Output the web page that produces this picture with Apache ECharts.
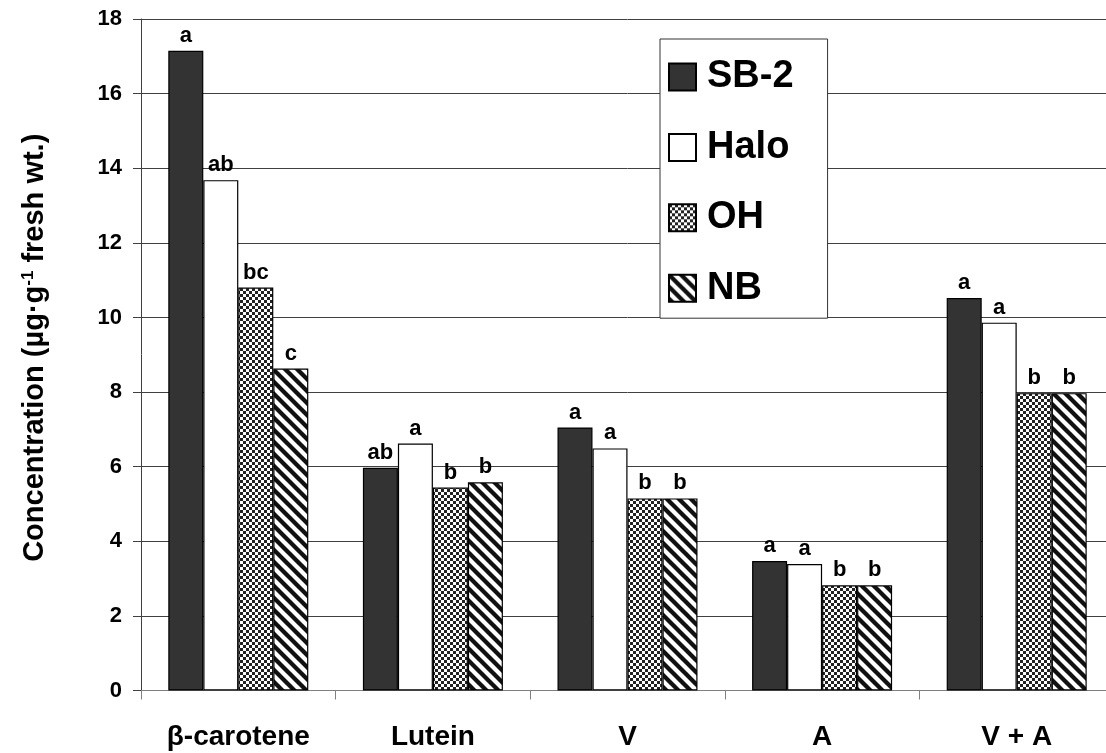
<!DOCTYPE html>
<html>
<head>
<meta charset="utf-8">
<script src="https://cdn.jsdelivr.net/npm/echarts@6/dist/echarts.min.js"></script>
<style>
  html, body { margin: 0; padding: 0; background: #fff; overflow: hidden; }
  /* the plot runs a few pixels past the right edge of the window */
  #chart { width: 1114px; height: 753px; }
</style>
</head>
<body>
<div id="chart"></div>
<script>
// Pigment categories and cultivar series
const categories = ['β-carotene', 'Lutein', 'V', 'A', 'V + A'];
const seriesNames = ['SB-2', 'Halo', 'OH', 'NB'];

// Concentration values (µg·g-1 fresh wt.)
const sb2Values  = [17.15, 5.97, 7.05, 3.47, 10.52];
const haloValues = [13.68, 6.62, 6.49, 3.39, 9.86];
const ohValues   = [10.80, 5.44, 5.15, 2.82, 7.97];
const nbValues   = [8.63, 5.58, 5.15, 2.82, 7.97];

// Mean-separation letters shown above each bar
const sb2Letters  = ['a', 'ab', 'a', 'a', 'a'];
const haloLetters = ['ab', 'a', 'a', 'a', 'a'];
const ohLetters   = ['bc', 'b', 'b', 'b', 'b'];
const nbLetters   = ['c', 'b', 'b', 'b', 'b'];

// Y-axis tick range
const yMin = 0, yMax = 18, yStep = 2;

const FONT = '"Liberation Sans", Arial, Helvetica, sans-serif';

// Small checkerboard tile for the OH fill
function checkerTile() {
  const c = document.createElement('canvas');
  c.width = 6; c.height = 6;
  const g = c.getContext('2d');
  g.fillStyle = '#ffffff'; g.fillRect(0, 0, 6, 6);
  g.fillStyle = '#222222';
  g.fillRect(0, 0, 3, 3);
  g.fillRect(3, 3, 3, 3);
  return c;
}

// Diagonal "\" stripe tile for the NB fill
function stripeTile() {
  const s = 12;
  const c = document.createElement('canvas');
  c.width = s; c.height = s;
  const g = c.getContext('2d');
  g.fillStyle = '#ffffff'; g.fillRect(0, 0, s, s);
  g.strokeStyle = '#111111';
  g.lineWidth = 4.3;
  for (const off of [-s, 0, s]) {
    g.beginPath();
    g.moveTo(-3, off - 3);
    g.lineTo(s + 3, s + off + 3);
    g.stroke();
  }
  return c;
}

const fills = [
  '#333333',
  '#ffffff',
  { image: checkerTile(), repeat: 'repeat' },
  { image: stripeTile(), repeat: 'repeat' }
];
const valueSets = [sb2Values, haloValues, ohValues, nbValues];
const letterSets = [sb2Letters, haloLetters, ohLetters, nbLetters];

const series = seriesNames.map((name, i) => ({
  name: name,
  type: 'bar',
  barWidth: 35,
  barGap: '0%',
  data: valueSets[i],
  itemStyle: { color: fills[i], borderColor: '#000', borderWidth: 1.2 },
  label: {
    show: true,
    position: 'top',
    distance: 4,
    formatter: p => letterSets[i][p.dataIndex],
    fontFamily: FONT,
    fontWeight: 'bold',
    fontSize: 22,
    color: '#000'
  },
  emphasis: { disabled: true },
  animation: false
}));

const chart = echarts.init(document.getElementById('chart'), null, { renderer: 'canvas' });
chart.setOption({
  backgroundColor: '#ffffff',
  animation: false,
  grid: { left: 141, top: 19, right: 0, bottom: 62.5, containLabel: false },
  legend: {
    orient: 'vertical',
    left: 660,
    top: 39,
    padding: [19, 34, 11, 8],
    itemWidth: 27,
    itemHeight: 27,
    itemGap: 32.4,
    backgroundColor: '#ffffff',
    borderColor: '#333',
    borderWidth: 1,
    icon: 'rect',
    textStyle: { fontFamily: FONT, fontWeight: 'bold', fontSize: 38, color: '#000', padding: [0, 0, 0, 6] },
    data: seriesNames
  },
  xAxis: {
    type: 'category',
    data: categories,
    axisLine: { lineStyle: { color: '#808080', width: 1 } },
    axisTick: { show: true, length: 9, interval: 0, lineStyle: { color: '#808080' } },
    axisLabel: {
      interval: 0,
      margin: 33,
      fontFamily: FONT,
      fontWeight: 'bold',
      fontSize: 28,
      color: '#000'
    }
  },
  yAxis: {
    type: 'value',
    min: yMin,
    max: yMax,
    interval: yStep,
    name: 'Concentration (µg·g{sup|-1} fresh wt.)',
    nameLocation: 'middle',
    nameGap: 92,
    nameRotate: 90,
    nameTextStyle: {
      fontFamily: FONT,
      fontWeight: 'bold',
      fontSize: 29,
      color: '#000',
      padding: [0, 0, 0, 14],
      rich: {
        sup: { fontFamily: FONT, fontWeight: 'bold', fontSize: 17, verticalAlign: 'top', color: '#000' }
      }
    },
    axisLine: { show: true, lineStyle: { color: '#404040', width: 1 } },
    axisTick: { show: true, length: 8, lineStyle: { color: '#404040' } },
    splitLine: { show: true, lineStyle: { color: '#404040', width: 1 } },
    axisLabel: {
      margin: 19,
      fontFamily: FONT,
      fontWeight: 'bold',
      fontSize: 22,
      color: '#000'
    }
  },
  series: series
});
</script>
</body>
</html>
